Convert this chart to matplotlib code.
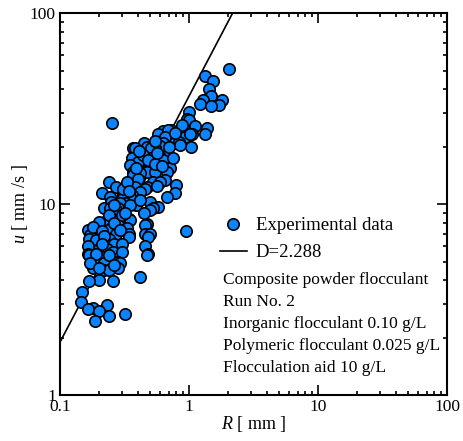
import matplotlib
matplotlib.use('Agg')
import matplotlib.pyplot as plt
import numpy as np

plt.rcParams['font.family'] = ['Liberation Serif', 'DejaVu Serif']
plt.rcParams['mathtext.fontset'] = 'custom'
plt.rcParams['mathtext.it'] = 'Liberation Serif:italic'
plt.rcParams['mathtext.rm'] = 'Liberation Serif'

R_data = [2.04, 1.33, 1.54, 1.43, 1.47, 1.29, 1.80, 1.70, 1.21, 1.47,
          1.00, 0.97, 1.00, 1.11, 1.38, 1.33, 1.06, 0.92, 0.85, 0.80,
          0.90, 1.04, 0.73, 0.76, 0.93, 1.02, 0.83, 0.85, 0.63, 0.58,
          0.69, 0.65, 0.63, 0.60, 0.52, 0.45, 0.37, 0.255,
          0.47, 0.545, 0.38, 0.51, 0.69, 0.60, 0.51, 0.36, 0.63, 0.42,
          0.50, 0.40, 0.35, 0.71, 0.37, 0.47, 0.545, 0.67, 0.42, 0.37,
          0.40, 0.65, 0.53, 0.60, 0.24, 0.80, 0.38, 0.47, 0.27, 0.46,
          0.42, 0.21, 0.78, 0.36, 0.244, 0.35, 0.30, 0.67, 0.31, 0.25,
          0.50, 0.32, 0.29, 0.39, 0.35, 0.58, 0.22, 0.244, 0.28, 0.53,
          0.50, 0.27, 0.34, 0.35, 0.23, 0.20, 0.47, 0.28, 0.46, 0.25,
          0.33, 0.165, 0.95, 0.46, 0.50, 0.34, 0.27, 0.19, 0.17, 0.34,
          0.48, 0.169, 0.24, 0.19, 0.26, 0.30, 0.165, 0.46, 0.20, 0.23,
          0.256, 0.30, 0.48, 0.165, 0.47, 0.169, 0.21, 0.187, 0.25, 0.28,
          0.29, 0.22, 0.18, 0.28, 0.22, 0.24, 0.42, 0.20, 0.256, 0.168,
          0.147, 0.145, 0.23, 0.18, 0.165, 0.20, 0.32, 0.24, 0.187,
          0.18, 0.21, 0.22, 0.24, 0.26, 0.30, 0.32, 0.29, 0.26, 0.31,
          0.33, 0.34, 0.39, 0.44, 0.48, 0.55, 0.57, 0.62, 0.70, 0.75,
          0.56, 0.42, 0.45, 0.19, 0.21, 0.24, 0.17, 0.26, 0.20, 0.88,
          0.78, 0.55, 0.41]
u_data = [51, 47, 44, 40, 36.7, 35, 35, 33, 33.4, 32.6,
          30.4, 28, 27.5, 25.7, 25, 23.3, 23.2, 24.8, 23.4, 22.2,
          21.2, 20, 24.4, 20.9, 22.5, 23.4, 21.2, 20.4, 24, 23.4,
          24.4, 22.5, 20.9, 20.2, 20.2, 21, 19.7, 26.7,
          20, 19.6, 19.6, 19.6, 18.1, 17.7, 17.4, 17.4, 17, 16.6,
          16.6, 16.6, 16, 15.4, 14.8, 14.8, 14.8, 14.8, 14.5, 14.2,
          13.6, 13.4, 13.1, 13.1, 13, 12.6, 12.3, 12.3, 12.3, 12,
          11.6, 11.4, 11.4, 11.1, 10.9, 10.9, 10.9, 10.9, 10.7, 10.3,
          10.3, 10.1, 10.1, 9.9, 9.9, 9.7, 9.5, 9.5, 9.5, 9.5,
          9.3, 9.3, 8.4, 8.25, 8.25, 8.1, 7.9, 7.8, 7.76, 7.45,
          7.45, 7.3, 7.25, 7.0, 7.0, 7.0, 7.0, 7.0, 6.9, 6.75,
          6.75, 6.6, 6.6, 6.48, 6.2, 6.2, 6.0, 6.0, 5.85, 5.85,
          5.6, 5.6, 5.5, 5.5, 5.4, 5.4, 5.3, 5.0, 5.0, 5.0,
          4.9, 4.9, 4.6, 4.6, 4.5, 4.5, 4.13, 4.0, 3.97, 3.95,
          3.47, 3.08, 2.96, 2.84, 2.82, 2.75, 2.66, 2.6, 2.44,
          7.6, 7.2, 6.8, 8.8, 8.0, 8.8, 9.0, 7.3, 9.9, 12.0,
          13.0, 11.7, 15.5, 18.0, 17.0, 16.2, 18.5, 15.8, 20.0, 17.5,
          12.5, 10.5, 9.0, 5.5, 6.2, 5.4, 4.9, 4.8, 4.6, 26,
          23.5, 21.5, 19]

# fractal dimension fit u = k * R^(D-1)
D = 2.288
k_fit = 36.7
R_fit = [0.1, 2.2]

notes = ['Composite powder flocculant', 'Run No. 2',
         'Inorganic flocculant 0.10 g/L', 'Polymeric flocculant 0.025 g/L',
         'Flocculation aid 10 g/L']

fig = plt.figure(figsize=(4.64, 4.41), dpi=100)
ax = fig.add_axes([0.1293, 0.1043, 0.834, 0.866])

ax.plot(R_data, u_data, 'o', ms=8.2, mfc='#0a84ff', mec='black', mew=1.2,
        label='Experimental data', zorder=3)
R_line = np.array(R_fit)
ax.plot(R_line, k_fit * R_line ** (D - 1), '-', color='black', lw=1.2,
        label='D=2.288', zorder=2)

ax.set_xscale('log')
ax.set_yscale('log')
ax.set_xlim(0.1, 100)
ax.set_ylim(1, 100)
ax.set_xticks([0.1, 1, 10, 100])
ax.set_xticklabels(['0.1', '1', '10', '100'])
ax.set_yticks([1, 10, 100])
ax.set_yticklabels(['1', '10', '100'])

ax.tick_params(which='both', direction='in', top=True, right=True,
               labelsize=12.5, width=1.2)
ax.tick_params(which='major', length=7, pad=3)
ax.tick_params(which='minor', length=3)
for sp in ax.spines.values():
    sp.set_linewidth(1.5)

ax.set_xlabel(r'$R$ [ mm ]', fontsize=13, labelpad=-1)
ax.set_ylabel(r'$u$ [ mm /s ]', fontsize=13, labelpad=0)

ax.legend(loc='upper left', bbox_to_anchor=(0.39, 0.49), frameon=False,
          fontsize=13.5, handlelength=1.4, handletextpad=0.5, labelspacing=0.52,
          borderpad=0, numpoints=1)

ax.text(0.421, 0.322, '\n'.join(notes), transform=ax.transAxes,
        fontsize=12.5, va='top', ha='left', linespacing=1.5)

fig.savefig('out.png', dpi=100)
